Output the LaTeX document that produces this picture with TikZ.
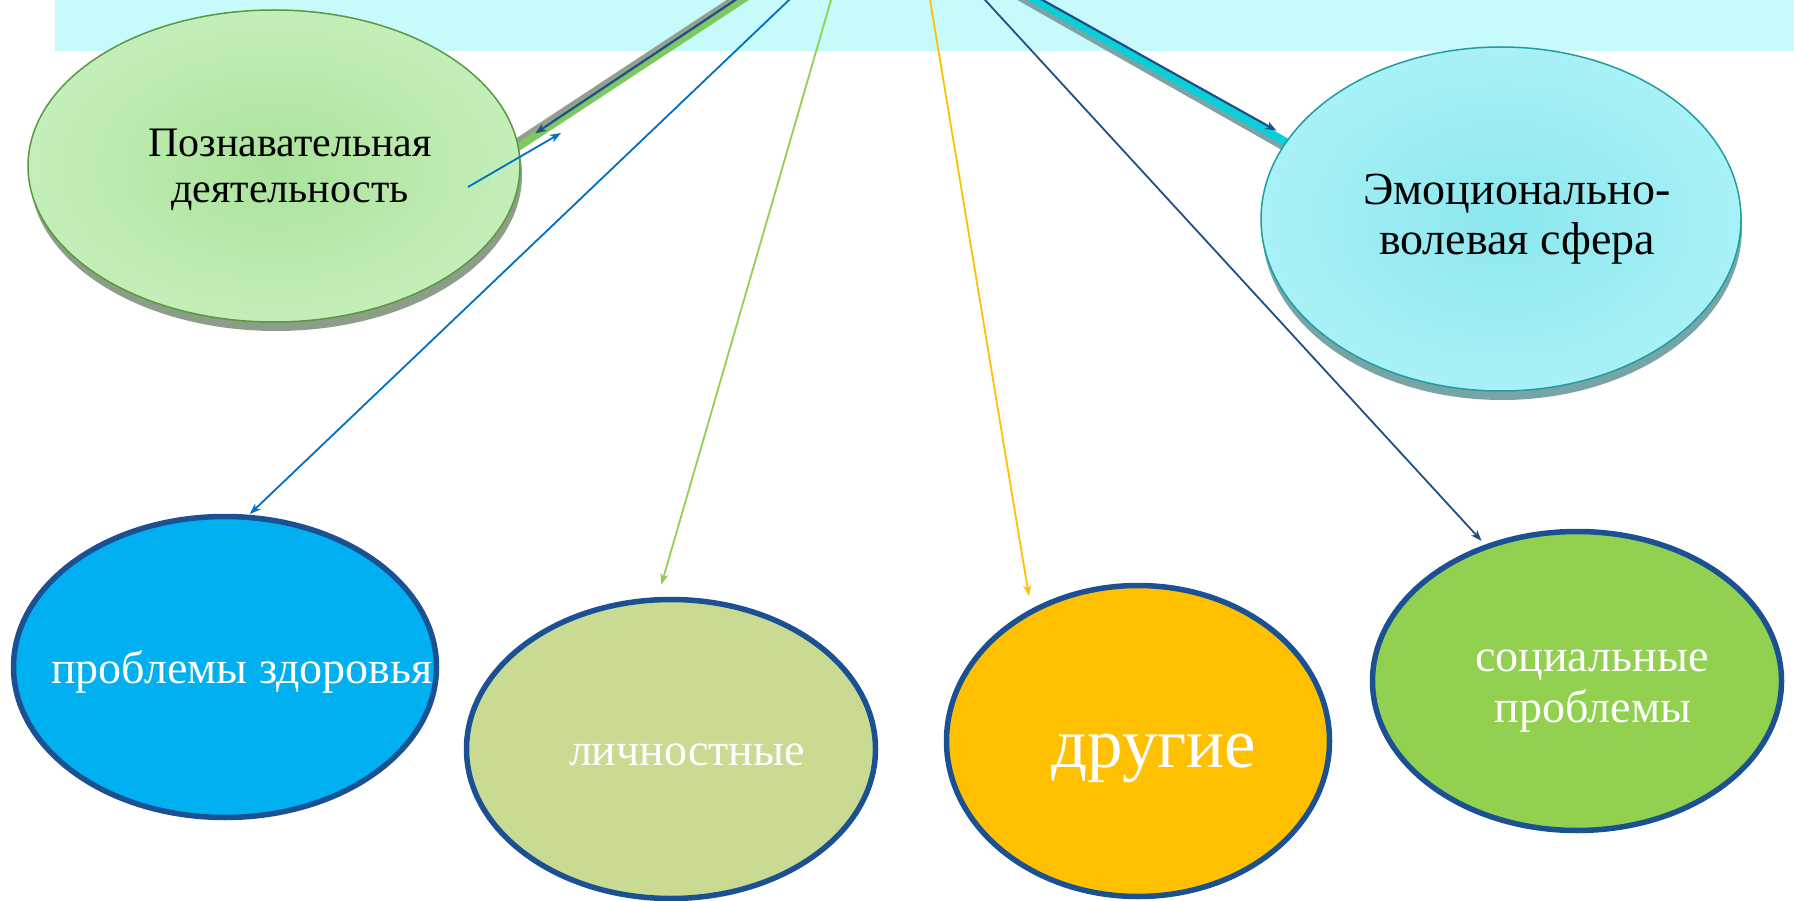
\documentclass[tikz,border=0pt]{standalone}
\usepackage{fontspec}
\setmainfont{Liberation Serif}
\usetikzlibrary{arrows.meta,calc,shapes.geometric}

\definecolor{topband}{HTML}{C6FAFB}
\definecolor{gfill}{HTML}{C4EEB9}
\definecolor{gfillin}{HTML}{ABE39B}
\definecolor{gline}{HTML}{5A9A3E}
\definecolor{gshade}{HTML}{8C9E8A}
\definecolor{cfill}{HTML}{A8F1F6}
\definecolor{cfillin}{HTML}{8CE7EE}
\definecolor{cline}{HTML}{1E9EA3}
\definecolor{cshade}{HTML}{78A4A6}
\definecolor{bblue}{HTML}{00B0F0}
\definecolor{bolive}{HTML}{C9DA93}
\definecolor{borange}{HTML}{FFC000}
\definecolor{bgreen}{HTML}{92D050}
\definecolor{rim}{HTML}{1B5193}
\definecolor{lblue}{HTML}{0070C0}
\definecolor{lgreen}{HTML}{92D050}
\definecolor{lyellow}{HTML}{FFC000}
\definecolor{ldark}{HTML}{1F4E8C}
\definecolor{bandgreen}{HTML}{7DC95F}
\definecolor{bandgray}{HTML}{93A08F}
\definecolor{bandcyan}{HTML}{0BCFD8}
\definecolor{bandcygray}{HTML}{7AA5A6}

\tikzset{
  topoval/.style={ellipse, inner sep=0pt, line width=1.5pt},
  botoval/.style={ellipse, inner sep=0pt, draw=rim, line width=5.5pt},
  shadeoval/.style={ellipse, inner sep=0pt, fill=#1},
  blk/.style={anchor=base, inner sep=0pt, text=black},
  wht/.style={anchor=base, inner sep=0pt, text=white},
  link/.style={line width=1.8pt, -{Stealth[length=11pt,width=8pt,inset=3pt]}},
  bandline/.style={line width=#1},
}

\begin{document}
\begin{tikzpicture}[x=1pt,y=-1pt]
\useasboundingbox (0,0) rectangle (1794,901);
\clip (0,0) rectangle (1794,901);
\fill[white] (0,0) rectangle (1794,901);
\fill[topband] (55,0) rectangle (1794,51);

% free ends above the picture
\coordinate (gbs) at (772.4,-20);
\coordinate (gbe) at (498.7,160);
\coordinate (cbs) at (1000.2,-20);
\coordinate (cbe) at (1308.9,155);
\coordinate (s1) at (799.5,-10);
\coordinate (s2) at (833.9,-10);
\coordinate (s3) at (928.4,-10);
\coordinate (s4) at (975.9,-10);
\coordinate (sg) at (765.3,-20);
\coordinate (sc) at (1006.7,-20);

% thick bands with shadows
\draw[bandgray, bandline=6pt] ($(gbs)+(-3,-4.6)$) -- ($(gbe)+(-3,-4.6)$);
\draw[bandgreen, bandline=7.5pt] (gbs) -- (gbe);
\draw[bandcygray, bandline=6pt] ($(cbs)+(-3,5.2)$) -- ($(cbe)+(-3,5.2)$);
\draw[bandcyan, bandline=8pt] (cbs) -- (cbe);

% shadows of the top ovals
\node[shadeoval=gshade, minimum width=492pt, minimum height=312pt] (e1s) at (276,175) {};
\node[shadeoval=cshade, minimum width=480pt, minimum height=344pt] (e2s) at (1502,228) {};

% ovals
\node[topoval, draw=gline, inner color=gfillin, outer color=gfill,
      minimum width=492pt, minimum height=312pt] (e1) at (274,166) {};
\node[topoval, draw=cline, inner color=cfillin, outer color=cfill,
      minimum width=480pt, minimum height=344pt] (e2) at (1501,219) {};
\node[botoval, fill=bblue, minimum width=423pt, minimum height=301pt] (e3) at (225,667) {};
\node[botoval, fill=bolive, minimum width=409pt, minimum height=299pt] (e4) at (671,749) {};
\node[botoval, fill=borange, minimum width=383pt, minimum height=311pt] (e5) at (1138,741) {};
\node[botoval, fill=bgreen, minimum width=409pt, minimum height=299pt] (e6) at (1577,681) {};

% texts
\node[blk, font=\fontsize{42}{46}\selectfont] (t1a) at (290,157) {Познавательная};
\node[blk, font=\fontsize{42}{46}\selectfont] (t1b) at (290,203) {деятельность};
\node[blk, font=\fontsize{46}{50}\selectfont] (t2a) at (1517,205) {Эмоционально-};
\node[blk, font=\fontsize{46}{50}\selectfont] (t2b) at (1517,255) {волевая сфера};
\node[wht, font=\fontsize{46}{50}\selectfont] (t3) at (242,683) {проблемы здоровья};
\node[wht, font=\fontsize{46}{50}\selectfont] (t4) at (687,765) {личностные};
\node[wht, font=\fontsize{71}{76}\selectfont] (t5) at (1154,767) {другие};
\node[wht, font=\fontsize{46}{50}\selectfont] (t6a) at (1592,671) {социальные};
\node[wht, font=\fontsize{46}{50}\selectfont] (t6b) at (1593,722) {проблемы};

% thin connectors
\draw[link, lblue, shorten >=1pt] (s1) -- (e3.81.8);
\draw[link, lgreen, shorten >=13pt] (s2) -- (e4.95.9);
\draw[link, lyellow, shorten >=13pt] (s3) -- (e5.129.8);
\draw[link, ldark, shorten >=5pt] (s4) -- (e6.124.95);

% arrows inside the bands
\draw[link, ldark, line width=2.2pt, shorten >=20pt] (sg) -- (e1.5.4);
\draw[link, ldark, line width=2.2pt, shorten >=14pt] (sc) -- (e2.159.5);

% small arrow leaving the left oval
\coordinate (ia) at ($(e1)+(194,21)$);
\coordinate (ib) at ($(e1)+(287,-33)$);
\draw[link, lblue] (ia) -- (ib);
\end{tikzpicture}
\end{document}
